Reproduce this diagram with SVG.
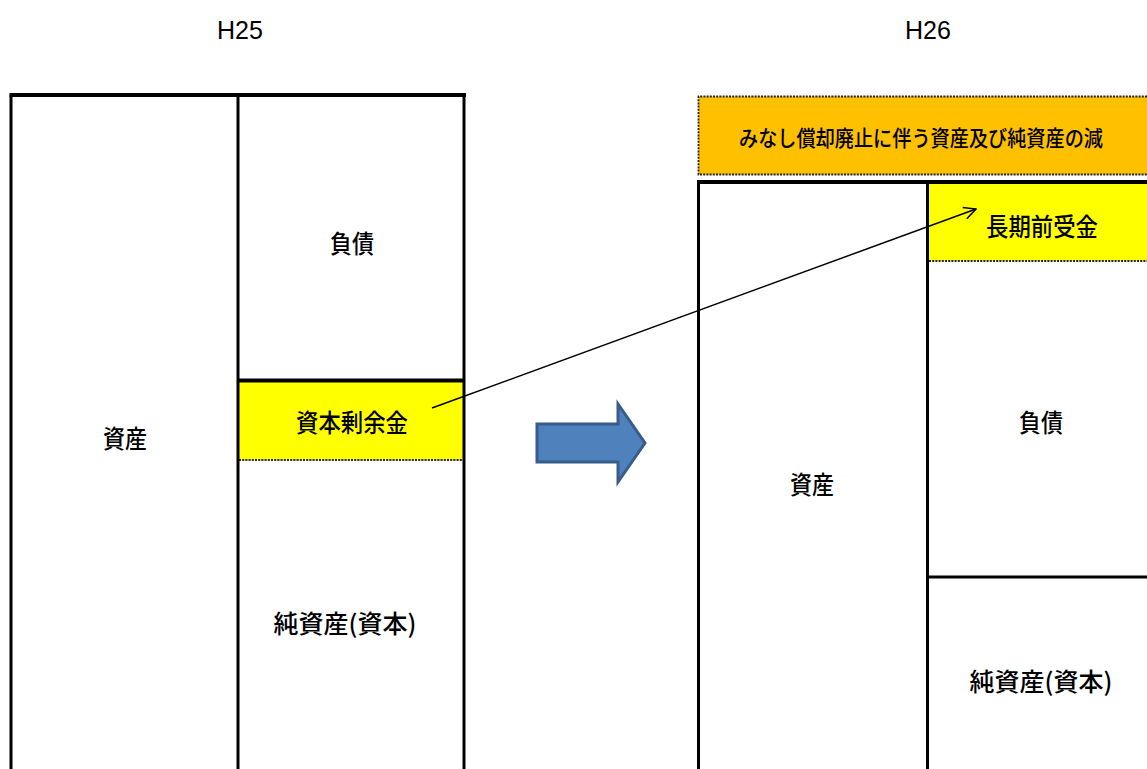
<svg xmlns="http://www.w3.org/2000/svg" width="1147" height="769" viewBox="0 0 1147 769">
<style>
.lbl{font-family:"Noto Sans CJK JP","Liberation Sans",sans-serif;font-size:25px;font-weight:500;fill:#000;text-anchor:middle;dominant-baseline:central}
.hdr{font-family:"Liberation Sans",Arial,sans-serif;font-size:25px;fill:#000;text-anchor:middle;dominant-baseline:central}
.ln{stroke:#000;stroke-width:3;fill:none}
.thick{stroke:#000;stroke-width:4;fill:none}
.dash{stroke:#222;stroke-width:1.8;stroke-dasharray:2 1.2;fill:none}
</style>
<defs>
<marker id="open" markerWidth="14" markerHeight="14" refX="13" refY="7" orient="auto" markerUnits="userSpaceOnUse">
<path d="M1,1 L13,7 L1,13" fill="none" stroke="#000" stroke-width="1.5"/>
</marker>
</defs>
<rect width="1147" height="769" fill="#fff"/>
<text class="hdr" x="240" y="30">H25</text>
<text class="hdr" x="928" y="30">H26</text>

<g id="h25-shisan">
<line class="ln" x1="11" y1="95" x2="11" y2="769"/>
<text class="lbl" x="125" y="437" textLength="44" lengthAdjust="spacingAndGlyphs">資産</text>
</g>
<g id="h25-fusai">
<text class="lbl" x="352" y="242" textLength="44" lengthAdjust="spacingAndGlyphs">負債</text>
</g>
<g id="h25-shihon-jouyokin">
<rect x="239" y="382" width="224" height="78" fill="#ffff00"/>
<line class="dash" x1="239" y1="460" x2="463" y2="460"/>
<line class="thick" x1="238" y1="380.5" x2="464" y2="380.5"/>
<text class="lbl" x="352" y="421" textLength="112" lengthAdjust="spacingAndGlyphs">資本剰余金</text>
</g>
<g id="h25-junshisan">
<text class="lbl" x="345" y="622" textLength="143" lengthAdjust="spacingAndGlyphs">純資産(資本)</text>
</g>
<g id="h25-frame">
<line class="ln" x1="238" y1="95" x2="238" y2="769"/>
<line class="ln" x1="464" y1="95" x2="464" y2="769"/>
<line class="thick" x1="9.5" y1="95" x2="466" y2="95"/>
</g>

<g id="arrow-right">
<path d="M537,424 L618,424 L618,404 L645,443 L618,482 L618,462 L537,462 Z" fill="#4f81bd" stroke="#385d8a" stroke-width="3" stroke-linejoin="miter"/>
</g>

<g id="h26-minashi">
<rect x="698.5" y="96.5" width="448.5" height="78" fill="#ffc000"/>
<path d="M1147,96.5 H698.5 V174.5 H1147" class="dash"/>
<text class="lbl" x="921" y="136" textLength="364" lengthAdjust="spacingAndGlyphs" style="font-size:22px">みなし償却廃止に伴う資産及び純資産の減</text>
</g>
<g id="h26-shisan">
<line class="ln" x1="698.5" y1="182" x2="698.5" y2="769"/>
<text class="lbl" x="812" y="483" textLength="44" lengthAdjust="spacingAndGlyphs">資産</text>
</g>
<g id="h26-chouki">
<rect x="929" y="184" width="218" height="77" fill="#ffff00"/>
<line class="dash" x1="929" y1="261" x2="1147" y2="261"/>
<text class="lbl" x="1042" y="225" textLength="112" lengthAdjust="spacingAndGlyphs">長期前受金</text>
</g>
<g id="h26-fusai">
<text class="lbl" x="1041" y="421" textLength="44" lengthAdjust="spacingAndGlyphs">負債</text>
</g>
<g id="h26-junshisan">
<line class="ln" x1="927" y1="577" x2="1147" y2="577"/>
<text class="lbl" x="1041" y="680" textLength="143" lengthAdjust="spacingAndGlyphs">純資産(資本)</text>
</g>
<g id="h26-frame">
<line class="ln" x1="927.5" y1="182" x2="927.5" y2="769"/>
<line class="thick" x1="697" y1="182" x2="1147" y2="182"/>
</g>

<g id="connectors">
<line x1="432" y1="408" x2="976" y2="209" stroke="#000" stroke-width="1.5" marker-end="url(#open)"/>
</g>
</svg>
